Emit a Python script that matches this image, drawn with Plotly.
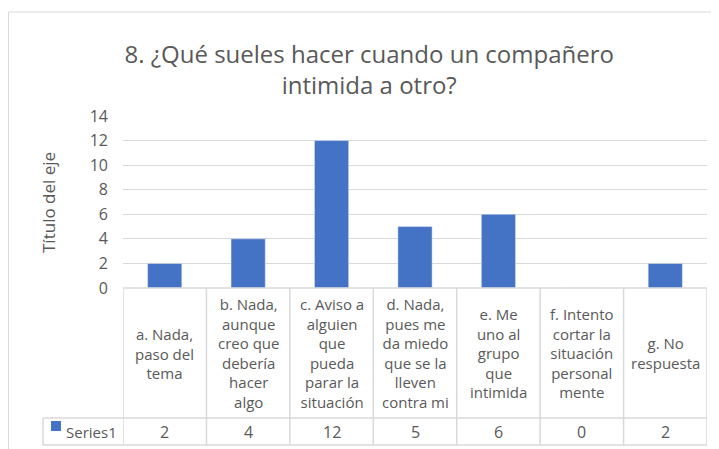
import plotly.graph_objects as go

categories = [
    "a. Nada,<br>paso del<br>tema",
    "b. Nada,<br>aunque<br>creo que<br>debería<br>hacer<br>algo",
    "c. Aviso a<br>alguien<br>que<br>pueda<br>parar la<br>situación",
    "d. Nada,<br>pues me<br>da miedo<br>que se la<br>lleven<br>contra mi",
    "e. Me<br>uno al<br>grupo<br>que<br>intimida",
    "f. Intento<br>cortar la<br>situación<br>personal<br>mente",
    "g. No<br>respuesta",
]
values = [2, 4, 12, 5, 6, 0, 2]
series_name = "Series1"
title = "8. ¿Qué sueles hacer cuando un compañero<br>intimida a otro?"
y_title = "Título del eje"

TXT = "#595959"
GRID = "#d9d9d9"
BLUE = "#4472C4"
FONT = "Open Sans"

# page body has an 8px margin, so the figure sits at (8, 8) in the screenshot
OFF = 8
W, H = 711, 441
L, R, T, B = 115, 12, 108, 161
pw = W - L - R
ph = H - T - B


def py(p):
    # screenshot pixel row -> paper y
    return (H - B - (p - OFF)) / ph


def px_(p):
    # screenshot pixel column -> paper x
    return (p - OFF - L) / pw


n = len(values)
xs = list(range(n))

fig = go.Figure(go.Bar(x=xs, y=values, marker_color=BLUE, width=0.41, name=series_name))

fig.update_layout(
    width=W, height=H,
    margin=dict(l=L, r=R, t=T, b=B),
    paper_bgcolor="white", plot_bgcolor="white",
    showlegend=False,
    font=dict(family=FONT, color=TXT, size=15),
    title=dict(text=title, x=0.508, xanchor="center", y=1 - 55 / H, yanchor="middle",
               font=dict(size=24, color=TXT, family=FONT)),
)
fig.update_xaxes(range=[-0.5, n - 0.5], showticklabels=False, showgrid=False,
                 zeroline=False, showline=False)
fig.update_yaxes(range=[0, 14], dtick=2, gridcolor=GRID, gridwidth=1.3, zeroline=False,
                 showline=False, ticks="", ticklabelstandoff=14,
                 tickfont=dict(size=16, color=TXT))

fig.add_annotation(x=px_(48), y=py(202), xref="paper", yref="paper", text=y_title,
                   textangle=-90, showarrow=False, xanchor="center", yanchor="middle",
                   font=dict(size=17, color=TXT))

shapes = []
line = dict(color=GRID, width=1.5)
# table grid
for i in range(n + 1):
    shapes.append(dict(type="line", xref="x", yref="paper", x0=i - 0.5, x1=i - 0.5,
                       y0=py(288), y1=py(445), line=line))
shapes.append(dict(type="line", xref="paper", yref="paper", x0=0, x1=1,
                   y0=py(288), y1=py(288), line=line))
for yy in (418, 445):
    shapes.append(dict(type="line", xref="paper", yref="paper", x0=px_(43), x1=1,
                       y0=py(yy), y1=py(yy), line=line))
shapes.append(dict(type="line", xref="paper", yref="paper", x0=px_(43), x1=px_(43),
                   y0=py(418), y1=py(445), line=line))
# legend key
shapes.append(dict(type="rect", xref="paper", yref="paper", x0=px_(51), x1=px_(61),
                   y0=py(431), y1=py(421), fillcolor=BLUE, line=dict(width=0)))
# outer chart border
shapes.append(dict(type="rect", xref="paper", yref="paper", x0=px_(8.5), x1=px_(740),
                   y0=py(470), y1=py(12), line=dict(color="#d9d9d9", width=1)))
fig.update_layout(shapes=shapes)

for i, (c, v) in enumerate(zip(categories, values)):
    fig.add_annotation(x=i, y=py(353), xref="x", yref="paper", text=c, showarrow=False,
                       font=dict(size=15, color=TXT), align="center", yanchor="middle")
    fig.add_annotation(x=i, y=py(432), xref="x", yref="paper", text=str(v), showarrow=False,
                       font=dict(size=16, color=TXT), yanchor="middle")
fig.add_annotation(x=px_(64), y=py(432), xref="paper", yref="paper", text=series_name,
                   showarrow=False, xanchor="left", yanchor="middle",
                   font=dict(size=15, color=TXT))

fig.write_html("out.html")
